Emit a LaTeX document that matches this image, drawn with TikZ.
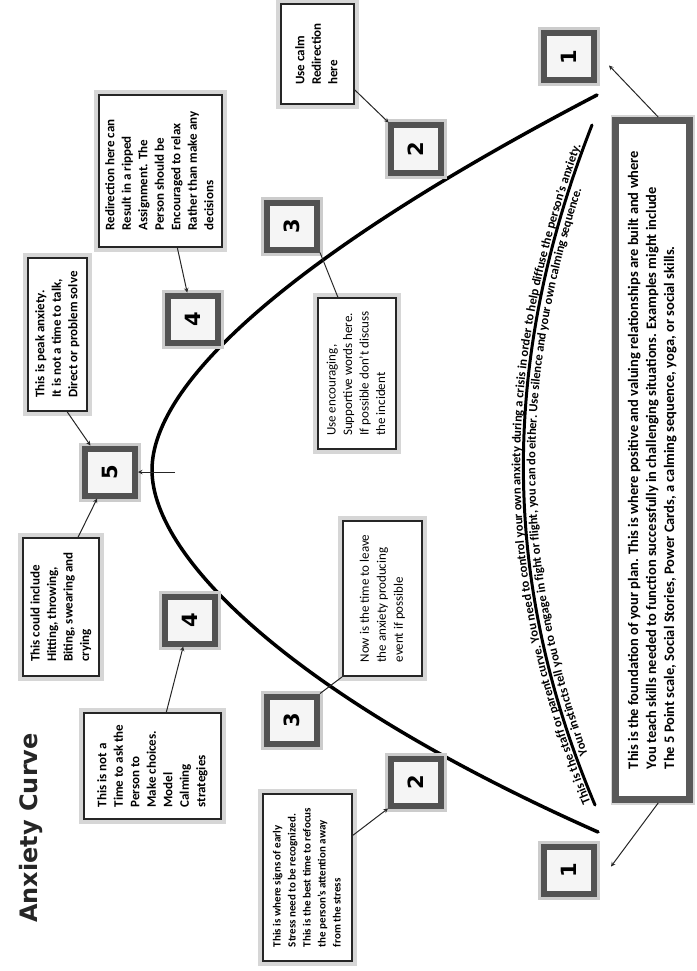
\documentclass[tikz,border=0pt]{standalone}
\usepackage{fontspec}
\setmainfont{Carlito}
\newfontfamily\titlefont{DejaVu Sans}
\usetikzlibrary{calc,decorations.text}

\newcommand{\turnedtext}[1]{\rotatebox{90}{\begin{tabular}{@{}l@{}}#1\end{tabular}}}

\begin{document}
\begin{tikzpicture}[x=1pt,y=-1pt,>=stealth,
    note/.style={draw=black!85, line width=1.8pt, fill=white, inner sep=0pt,
      preaction={draw=black!16, line width=10pt},
      font=\fontsize{13}{16.5}\selectfont\bfseries},
    level/.style={draw=black!68, line width=6pt, fill=black!4, inner sep=0pt,
      minimum width=50pt, minimum height=47pt, outer sep=3pt,
      preaction={draw=black!20, line width=12pt},
      font=\titlefont\bfseries\fontsize{21}{21}\selectfont},
    link/.style={->, line width=1pt, black!85},
    curve/.style={line width=3.5pt, line cap=round}]
    \useasboundingbox (0,0) rectangle (696,971);

    % Title
    \node[font=\titlefont\bfseries\fontsize{24}{24}\selectfont, text=black!85, inner sep=0pt] (title) at (31,828) {\rotatebox{90}{Anxiety Curve}};

    % the anxiety curve
    \draw[curve] (597,95) .. controls (300,250) and (152,380) .. (152,470)
        .. controls (152,560) and (300,700) .. (598,832);

    % staff or parent curve
    \coordinate (arclow) at (595,805);
    \coordinate (archigh) at (592,125);
    \draw[curve, line width=3pt,
        postaction={decorate, decoration={text along path, raise=3pt,
          text align={left indent=4pt},
          text={|\fontsize{12.5}{12.5}\selectfont\bfseries|This is the staff or parent curve. You need to control your own anxiety during a crisis in order to help diffuse the person's anxiety.}}},
        postaction={decorate, decoration={text along path, raise=-12pt,
          text align={left indent=50pt},
          text={|\fontsize{12.5}{12.5}\selectfont\bfseries|Your instincts tell you to engage in fight or flight, you can do either. Use silence and your own calming sequence.}}}]
        (arclow) .. controls (500,580) and (500,360) .. (archigh);

    % levels
    \node[level] (S1a) at (569,57) {\rotatebox{90}{1}};
    \node[level] (S1b) at (569,870) {\rotatebox{90}{1}};
    \node[level] (S2a) at (416,149) {\rotatebox{90}{2}};
    \node[level] (S2b) at (416,782) {\rotatebox{90}{2}};
    \node[level] (S3a) at (292,226) {\rotatebox{90}{3}};
    \node[level] (S3b) at (292,720) {\rotatebox{90}{3}};
    \node[level] (S4a) at (193,319) {\rotatebox{90}{4}};
    \node[level] (S4b) at (190,620) {\rotatebox{90}{4}};
    \node[level] (S5) at (110,472) {\rotatebox{90}{5}};

    % notes
    \node[note, minimum width=123pt, minimum height=152pt] (ripped) at (160.5,171)
        {\turnedtext{Redirection here can \\ Result in a ripped \\ Assignment. The \\ Person should be \\ Encouraged to relax \\ Rather than make any \\ decisions}};
    \node[note, minimum width=59pt, minimum height=153pt] (peak) at (57.5,334.5)
        {\turnedtext{This is peak anxiety. \\ It is not a time to talk, \\ Direct or problem solve}};
    \node[note, minimum width=76pt, minimum height=138pt] (hitting) at (61,607)
        {\turnedtext{This could include \\ Hitting, throwing, \\ Biting, swearing and \\ crying}};
    \node[note, minimum width=137pt, minimum height=106pt] (choices) at (152.5,766)
        {\turnedtext{This is not a \\ Time to ask the \\ Person to \\ Make choices. \\ Model \\ Calming \\ strategies}};
    \node[note, minimum width=73pt, minimum height=100pt] (calm) at (317.5,54)
        {\turnedtext{Use calm \\ Redirection \\ here}};
    \node[note, minimum width=78pt, minimum height=151pt, font=\fontsize{13}{16.5}\selectfont] (support) at (357,373.5)
        {\turnedtext{Use encouraging, \\ Supportive words here. \\ If possible don't discuss \\ the incident}};
    \node[note, minimum width=79pt, minimum height=155pt, font=\fontsize{13}{17}\selectfont] (leave) at (382.5,598.5)
        {\turnedtext{Now is the time to leave \\ the anxiety producing \\ event if possible}};
    \node[note, minimum width=89pt, minimum height=167pt, font=\fontsize{11}{15}\selectfont\bfseries] (early) at (307.5,877.5)
        {\turnedtext{This is where signs of early \\ Stress need to be recognized. \\ This is the best time to refocus \\ the person's attention away \\ from the stress}};
    \node[note, draw=black!65, line width=7pt, minimum width=74pt, minimum height=679pt,
        font=\fontsize{14.5}{18}\selectfont\bfseries] (plan) at (652.5,460)
        {\turnedtext{This is the foundation of your plan. This is where positive and valuing relationships are built and where \\ You teach skills needed to function successfully in challenging situations. Examples might include \\ The 5 Point scale, Social Stories, Power Cards, a calming sequence, yoga, or social skills.}};

    % arrows
    \coordinate (apex) at (175,472);
    \draw[link] (apex) -- (S5.east);
    \draw[link] ($(peak.south west)!0.66!(peak.south east)$) -- ($(S5.north west)!0.15!(S5.north east)$);
    \draw[link] ($(hitting.north west)!0.72!(hitting.north east)$) -- ($(S5.south west)!0.27!(S5.south east)$);
    \draw[link] (ripped) -- (S4a);
    \draw[link] (choices) -- (S4b);
    \draw[line width=1pt, black!85] (S3a.south east) -- ($(support.north west)!0.26!(support.north east)$);
    \draw[line width=1pt, black!85] (S3b.north east) -- (leave.south west);
    \draw[link] (calm) -- (S2a);
    \draw[link] ($(early.north east)!0.25!(early.south east)$) -- (S2b.south west);
    \draw[link] ($(plan.north west)!0.57!(plan.north east)$) -- ($(S1a.south east)+(12,-18)$);
    \draw[link] ($(plan.south west)!0.57!(plan.south east)$) -- ($(S1b.north east)+(14,23)$);
\end{tikzpicture}
\end{document}
